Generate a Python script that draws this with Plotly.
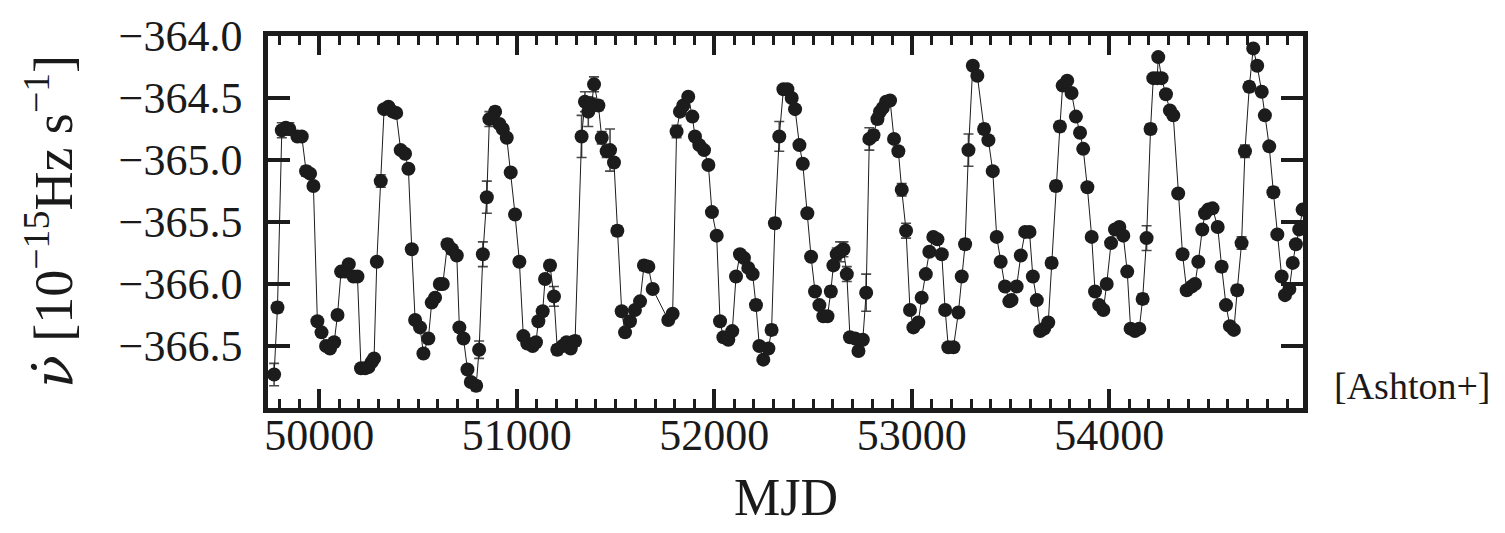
import plotly.graph_objects as go

mjd = [49771, 49788, 49810, 49830, 49848, 49889, 49911, 49933, 49953, 49970,
       49990, 50011, 50034, 50054, 50075, 50092, 50110, 50130, 50149, 50173,
       50193, 50211, 50232, 50249, 50265, 50277, 50291, 50311, 50328, 50350,
       50372, 50389, 50412, 50434, 50451, 50468, 50485, 50510, 50527, 50552,
       50569, 50586, 50610, 50625, 50649, 50671, 50696, 50709, 50730, 50750,
       50767, 50794, 50809, 50828, 50848, 50861, 50890, 50912, 50929, 50949,
       50969, 50991, 51013, 51033, 51053, 51080, 51097, 51109, 51131, 51143,
       51168, 51188, 51205, 51232, 51252, 51273, 51295, 51328, 51345, 51362,
       51379, 51391, 51413, 51430, 51455, 51472, 51492, 51509, 51531, 51548,
       51573, 51598, 51624, 51644, 51666, 51688, 51767, 51789, 51809, 51826,
       51843, 51868, 51889, 51902, 51924, 51948, 51970, 51988, 52012, 52029,
       52046, 52071, 52091, 52110, 52130, 52150, 52172, 52194, 52211, 52228,
       52248, 52274, 52290, 52307, 52329, 52350, 52370, 52392, 52409, 52431,
       52448, 52471, 52490, 52510, 52532, 52552, 52573, 52590, 52603, 52620,
       52637, 52654, 52671, 52687, 52713, 52730, 52752, 52769, 52785, 52806,
       52826, 52839, 52853, 52870, 52890, 52910, 52932, 52949, 52971, 52991,
       53008, 53033, 53050, 53071, 53089, 53109, 53130, 53152, 53169, 53185,
       53211, 53236, 53253, 53270, 53287, 53309, 53332, 53366, 53388, 53410,
       53430, 53450, 53472, 53494, 53505, 53531, 53552, 53574, 53596, 53613,
       53633, 53650, 53670, 53691, 53708, 53730, 53750, 53764, 53787, 53809,
       53831, 53852, 53868, 53889, 53911, 53928, 53949, 53970, 53987, 54009,
       54029, 54051, 54071, 54091, 54108, 54130, 54152, 54169, 54189, 54209,
       54223, 54243, 54248, 54265, 54287, 54307, 54324, 54349, 54371, 54392,
       54417, 54434, 54451, 54471, 54485, 54501, 54523, 54549, 54569, 54591,
       54611, 54631, 54648, 54670, 54687, 54709, 54729, 54749, 54772, 54788,
       54810, 54831, 54851, 54873, 54890, 54912, 54929, 54945, 54962, 54979]

nudot = [-366.73, -366.19, -364.76, -364.74, -364.75, -364.81, -364.81, -365.09, -365.11, -365.21,
         -366.30, -366.39, -366.50, -366.52, -366.47, -366.25, -365.90, -365.90, -365.84, -365.94,
         -365.94, -366.68, -366.68, -366.67, -366.63, -366.60, -365.82, -365.17, -364.59, -364.57,
         -364.61, -364.62, -364.92, -364.95, -365.07, -365.72, -366.29, -366.35, -366.56, -366.44,
         -366.15, -366.11, -366.00, -366.00, -365.68, -365.72, -365.77, -366.35, -366.44, -366.69,
         -366.79, -366.82, -366.53, -365.76, -365.30, -364.67, -364.61, -364.71, -364.75, -364.82,
         -365.10, -365.44, -365.82, -366.42, -366.48, -366.50, -366.47, -366.30, -366.22, -365.96,
         -365.85, -366.10, -366.53, -366.50, -366.47, -366.52, -366.46, -364.81, -364.53, -364.61,
         -364.55, -364.39, -364.56, -364.82, -364.93, -364.92, -365.02, -365.57, -366.22, -366.39,
         -366.30, -366.21, -366.14, -365.85, -365.86, -366.04, -366.29, -366.24, -364.77, -364.61,
         -364.56, -364.49, -364.65, -364.81, -364.88, -364.92, -365.04, -365.42, -365.61, -366.30,
         -366.43, -366.45, -366.38, -365.94, -365.76, -365.79, -365.87, -365.92, -366.17, -366.50,
         -366.61, -366.52, -366.37, -365.51, -364.81, -364.43, -364.43, -364.50, -364.59, -364.88,
         -365.03, -365.43, -365.78, -366.06, -366.17, -366.26, -366.26, -366.06, -365.85, -365.76,
         -365.74, -365.72, -365.92, -366.43, -366.44, -366.54, -366.45, -366.07, -364.83, -364.80,
         -364.67, -364.61, -364.58, -364.53, -364.52, -364.83, -364.93, -365.24, -365.57, -366.21,
         -366.35, -366.31, -366.11, -365.92, -365.74, -365.62, -365.64, -365.76, -366.21, -366.51,
         -366.51, -366.23, -365.94, -365.68, -364.92, -364.24, -364.32, -364.75, -364.84, -365.09,
         -365.62, -365.82, -366.02, -366.14, -366.13, -366.02, -365.77, -365.58, -365.58, -365.94,
         -366.13, -366.38, -366.36, -366.31, -365.83, -365.21, -364.73, -364.40, -364.36, -364.46,
         -364.65, -364.78, -364.91, -365.22, -365.62, -366.06, -366.17, -366.21, -366.00, -365.67,
         -365.56, -365.54, -365.61, -365.90, -366.36, -366.38, -366.36, -366.12, -365.63, -364.75,
         -364.34, -364.34, -364.17, -364.34, -364.47, -364.60, -364.64, -365.27, -365.76, -366.05,
         -366.02, -366.00, -365.82, -365.56, -365.43, -365.40, -365.39, -365.54, -365.86, -366.17,
         -366.34, -366.37, -366.05, -365.67, -364.93, -364.41, -364.10, -364.24, -364.45, -364.64,
         -364.89, -365.26, -365.60, -365.94, -366.09, -366.04, -365.83, -365.68, -365.56, -365.40]

nudot_err = [0.09, 0.04, 0.06, 0.04, 0.05, 0.02, 0.02, 0.04, 0.03, 0.02,
             0.02, 0.02, 0.02, 0.02, 0.02, 0.02, 0.02, 0.02, 0.02, 0.02,
             0.02, 0.02, 0.02, 0.02, 0.02, 0.02, 0.03, 0.05, 0.02, 0.02,
             0.02, 0.02, 0.02, 0.02, 0.03, 0.02, 0.02, 0.02, 0.02, 0.02,
             0.02, 0.02, 0.03, 0.03, 0.04, 0.02, 0.02, 0.02, 0.02, 0.02,
             0.03, 0.04, 0.07, 0.10, 0.13, 0.06, 0.04, 0.02, 0.02, 0.02,
             0.02, 0.02, 0.03, 0.02, 0.02, 0.02, 0.02, 0.02, 0.03, 0.03,
             0.04, 0.08, 0.04, 0.02, 0.02, 0.03, 0.04, 0.17, 0.08, 0.12,
             0.05, 0.06, 0.04, 0.05, 0.05, 0.17, 0.02, 0.04, 0.03, 0.02,
             0.02, 0.02, 0.02, 0.04, 0.02, 0.02, 0.02, 0.02, 0.05, 0.02,
             0.02, 0.02, 0.02, 0.02, 0.02, 0.02, 0.03, 0.02, 0.03, 0.02,
             0.02, 0.02, 0.02, 0.02, 0.02, 0.02, 0.02, 0.02, 0.04, 0.02,
             0.03, 0.02, 0.04, 0.04, 0.12, 0.02, 0.02, 0.02, 0.03, 0.03,
             0.03, 0.02, 0.02, 0.02, 0.02, 0.02, 0.02, 0.04, 0.03, 0.05,
             0.08, 0.06, 0.06, 0.02, 0.02, 0.02, 0.02, 0.15, 0.09, 0.04,
             0.04, 0.03, 0.03, 0.02, 0.02, 0.02, 0.03, 0.05, 0.06, 0.03,
             0.02, 0.02, 0.02, 0.02, 0.03, 0.02, 0.02, 0.02, 0.02, 0.02,
             0.02, 0.02, 0.02, 0.04, 0.13, 0.03, 0.02, 0.04, 0.02, 0.02,
             0.03, 0.02, 0.02, 0.02, 0.02, 0.02, 0.02, 0.02, 0.02, 0.02,
             0.02, 0.02, 0.02, 0.02, 0.04, 0.04, 0.04, 0.02, 0.02, 0.02,
             0.02, 0.02, 0.02, 0.03, 0.03, 0.02, 0.02, 0.02, 0.02, 0.02,
             0.02, 0.02, 0.02, 0.02, 0.03, 0.03, 0.03, 0.04, 0.10, 0.04,
             0.02, 0.02, 0.02, 0.02, 0.02, 0.02, 0.02, 0.03, 0.03, 0.02,
             0.02, 0.02, 0.02, 0.02, 0.02, 0.02, 0.03, 0.03, 0.04, 0.02,
             0.02, 0.02, 0.04, 0.05, 0.05, 0.04, 0.02, 0.02, 0.02, 0.02,
             0.02, 0.04, 0.03, 0.02, 0.02, 0.02, 0.02, 0.02, 0.02, 0.02]

x_tickvals = [50000, 51000, 52000, 53000, 54000]
x_ticktext = ["50000", "51000", "52000", "53000", "54000"]
y_tickvals = [-366.5, -366.0, -365.5, -365.0, -364.5, -364.0]
y_ticktext = ["\u2212366.5", "\u2212366.0", "\u2212365.5", "\u2212365.0", "\u2212364.5", "\u2212364.0"]

FONT = "Liberation Serif"
INK = "#1c1c1c"

fig = go.Figure()
fig.add_trace(go.Scatter(
    x=mjd, y=nudot, mode="lines+markers",
    line=dict(color=INK, width=1.0),
    marker=dict(color=INK, size=14, line=dict(width=0)),
    error_y=dict(type="data", array=nudot_err, visible=True,
                 color="#4a4a4a", thickness=1.6, width=5),
    showlegend=False,
))

fig.update_layout(
    width=1505, height=533,
    margin=dict(l=268, r=202, t=27, b=125),
    paper_bgcolor="white", plot_bgcolor="white",
    font=dict(family=FONT, color="#1a1a1a"),
    xaxis=dict(
        range=[49740, 54981],
        tickvals=x_tickvals, ticktext=x_ticktext,
        ticks="inside", ticklen=19, tickwidth=3.5, tickcolor=INK,
        minor=dict(dtick=100, tick0=0, ticks="inside", ticklen=9, tickwidth=2.5, tickcolor=INK),
        showline=True, linewidth=4.5, linecolor=INK, mirror="allticks",
        showgrid=False, zeroline=False,
        tickfont=dict(size=44, family=FONT),
        ticklabelstandoff=-16,
    ),
    yaxis=dict(
        range=[-367.0, -364.0],
        tickvals=y_tickvals, ticktext=y_ticktext,
        ticks="inside", ticklen=22, tickwidth=3.5, tickcolor=INK,
        showline=True, linewidth=4.5, linecolor=INK, mirror="allticks",
        showgrid=False, zeroline=False,
        tickfont=dict(size=44, family=FONT),
        ticklabelstandoff=12,
    ),
    annotations=[
        dict(text="<span style='font-family:DejaVu Serif'><i>\u03bd\u0307</i></span> [10<sup>\u221215</sup>Hz s<sup>\u22121</sup>]",
             xref="paper", yref="paper", x=-0.2106, y=0.5,
             xanchor="center", yanchor="middle", textangle=-90,
             showarrow=False, font=dict(size=54, family=FONT, color="#1a1a1a")),
        dict(text="MJD", xref="paper", yref="paper", x=0.5005, y=-0.3215,
             xanchor="center", yanchor="bottom", showarrow=False,
             font=dict(size=52, family=FONT, color="#1a1a1a")),
        dict(text="[Ashton+]", xref="paper", yref="paper", x=1.106, y=0.06,
             xanchor="center", yanchor="middle", showarrow=False,
             font=dict(size=38, family=FONT, color="#1a1a1a")),
    ],
)

fig.write_html("out.html")
